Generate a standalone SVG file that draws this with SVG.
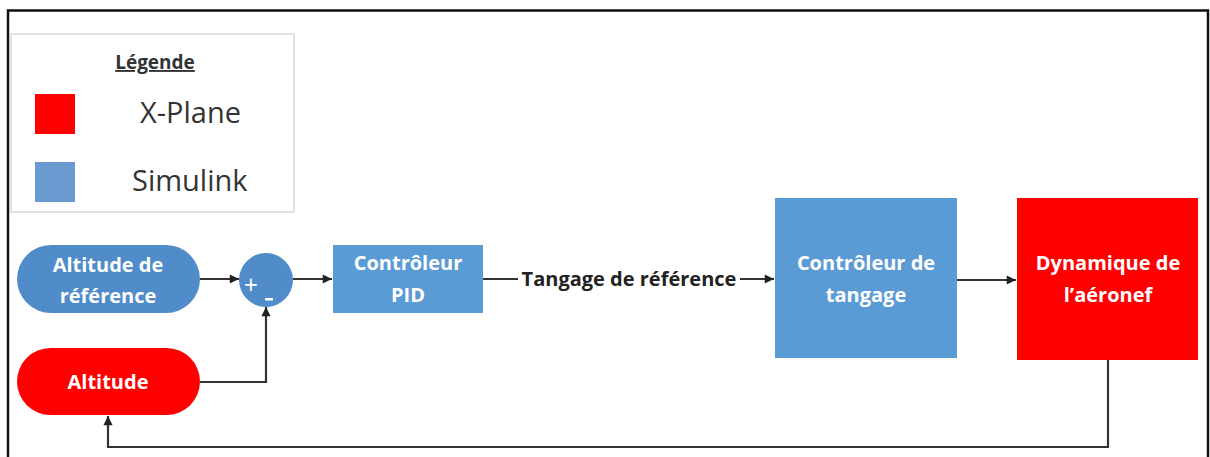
<svg xmlns="http://www.w3.org/2000/svg" width="1210" height="457" viewBox="0 0 1210 457">
<style>
.frame{fill:none;stroke:#111;stroke-width:2.5}
.lbl{font-family:"Open Sans","Liberation Sans",sans-serif;font-weight:bold;font-size:20px;fill:#fff;text-anchor:middle}
.leg{font-family:"Open Sans","Liberation Sans",sans-serif;font-size:29px;fill:#333}
.conn{fill:none;stroke:#333;stroke-width:2.2}
.blue{fill:#5b9bd5}
.dblue{fill:#4f8cc9}
.red{fill:#ff0000}
</style>
<defs>
<marker id="arr" viewBox="0 0 10 10" refX="10" refY="5" markerWidth="4.6" markerHeight="4.2" orient="auto" markerUnits="strokeWidth">
<path d="M0,0 L10,5 L0,10 z" fill="#222"/>
</marker>
</defs>
<rect width="1210" height="457" fill="#fff"/>
<path class="frame" d="M8,457 V10.5 H1208 V457"/>
<g id="legend">
<rect x="11" y="34" width="283" height="178" fill="#fff" stroke="#e2e2e2" stroke-width="2"/>
<text x="155" y="69" font-family="'Open Sans','Liberation Sans',sans-serif" font-weight="bold" font-size="19" fill="#333" text-anchor="middle" text-decoration="underline">Légende</text>
<rect x="35" y="94" width="40" height="40" class="red"/>
<text x="140" y="123" class="leg">X-Plane</text>
<rect x="35" y="162" width="40" height="40" fill="#6a9bd0"/>
<text x="132" y="191" class="leg">Simulink</text>
</g>
<g id="connectors">
<path class="conn" d="M200,279 H239" marker-end="url(#arr)"/>
<path class="conn" d="M200,382 H266 V307" marker-end="url(#arr)"/>
<path class="conn" d="M293,279 H332" marker-end="url(#arr)"/>
<path class="conn" d="M483,279 H518"/>
<path class="conn" d="M740,279 H774" marker-end="url(#arr)"/>
<path class="conn" d="M957,280 H1016" marker-end="url(#arr)"/>
<path class="conn" stroke="#555" stroke-width="2.5" d="M1108,360 V447 H108 V416" marker-end="url(#arr)"/>
<text x="629" y="286" font-family="'Open Sans','Liberation Sans',sans-serif" font-weight="bold" font-size="20" fill="#222" text-anchor="middle">Tangage de référence</text>
</g>
<g id="altitude-ref">
<rect x="17" y="245" width="183" height="68" rx="34" class="dblue"/>
<text x="108" y="272" class="lbl">Altitude de</text>
<text x="108" y="303" class="lbl">référence</text>
</g>
<g id="sum">
<circle cx="266" cy="280" r="27" class="dblue"/>
<text x="251" y="294" font-family="'Open Sans','Liberation Sans',sans-serif" font-size="25" fill="#fff" text-anchor="middle">+</text>
<rect x="265" y="298" width="8" height="2.5" fill="#fff"/>
</g>
<g id="altitude">
<rect x="17" y="348" width="183" height="67" rx="33.5" class="red"/>
<text x="108" y="389" class="lbl">Altitude</text>
</g>
<g id="pid">
<rect x="333" y="245" width="150" height="68" class="blue"/>
<text x="408" y="270" class="lbl">Contrôleur</text>
<text x="408" y="302" class="lbl">PID</text>
</g>
<g id="tangage">
<rect x="775" y="198" width="182" height="160" class="blue"/>
<text x="866" y="270" class="lbl">Contrôleur de</text>
<text x="866" y="302" class="lbl">tangage</text>
</g>
<g id="dynamique">
<rect x="1017" y="198" width="181" height="162" class="red"/>
<text x="1108" y="270" class="lbl">Dynamique de</text>
<text x="1108" y="302" class="lbl">l’aéronef</text>
</g>
</svg>
